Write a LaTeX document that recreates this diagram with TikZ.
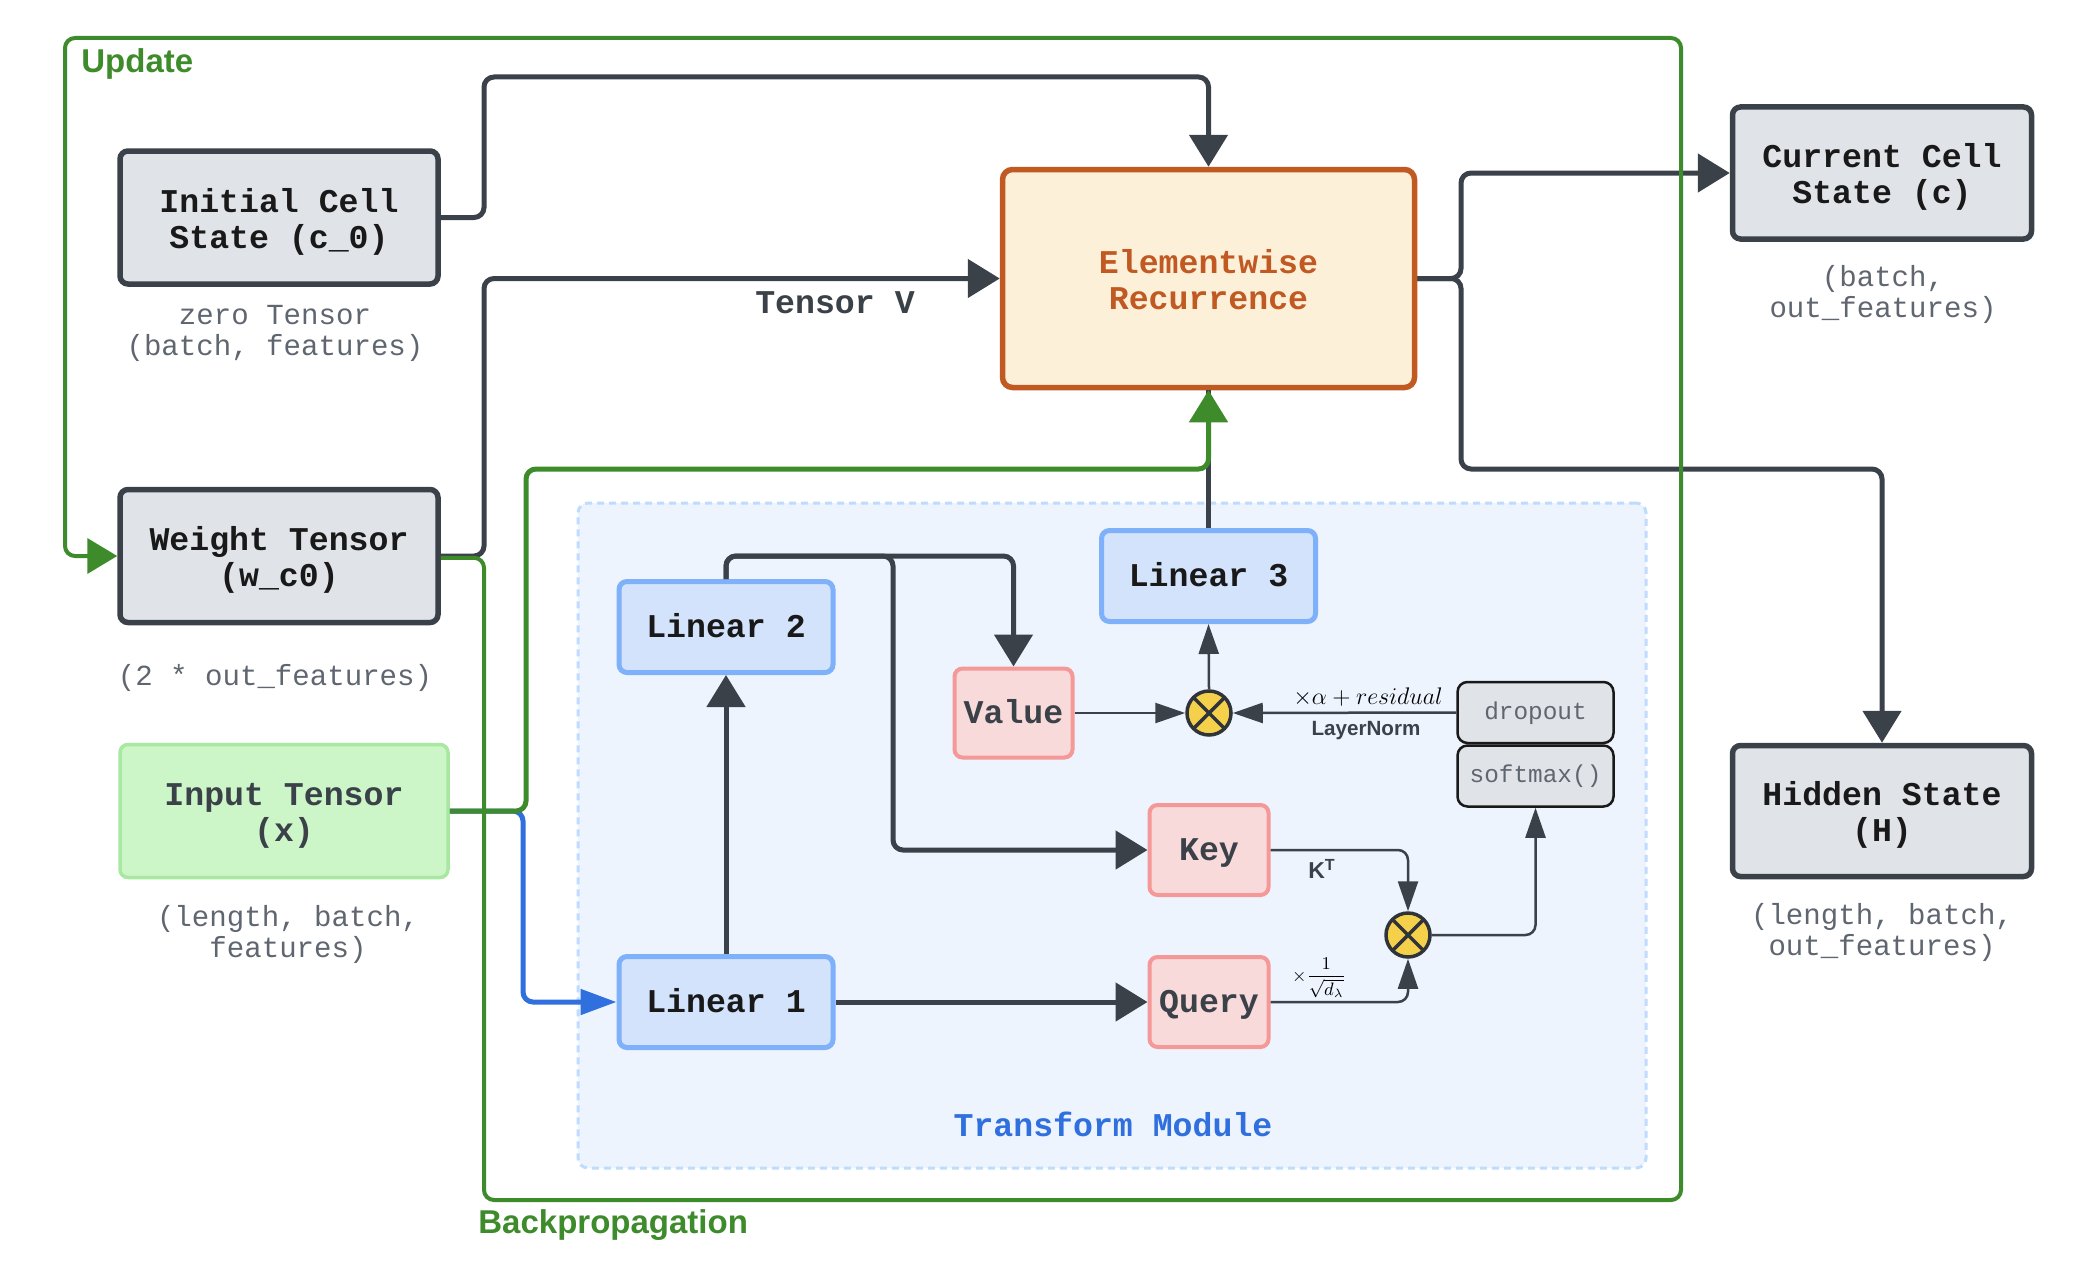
\documentclass[tikz,border=0pt]{standalone}
\usepackage{amsmath}
\usepackage{fontspec}
\setmainfont{Liberation Sans}
\setmonofont{Liberation Mono}
\usepackage{tikz}
\usetikzlibrary{arrows.meta,shapes}

\definecolor{ink}{HTML}{3B4149}
\definecolor{note}{HTML}{5F6670}
\definecolor{graybox}{HTML}{E0E3E8}
\definecolor{updgreen}{HTML}{3D8B2A}
\definecolor{flowblue}{HTML}{2F6FDE}
\definecolor{linefill}{HTML}{D3E3FC}
\definecolor{lineedge}{HTML}{7FB0FA}
\definecolor{modfill}{HTML}{EDF4FE}
\definecolor{modedge}{HTML}{BFDBFE}
\definecolor{attfill}{HTML}{F9DADA}
\definecolor{attedge}{HTML}{F49898}
\definecolor{inpfill}{HTML}{CCF5C8}
\definecolor{inpedge}{HTML}{A8E8A0}
\definecolor{recfill}{HTML}{FDF0D9}
\definecolor{recedge}{HTML}{C05A22}
\definecolor{mulfill}{HTML}{F5D04A}
\definecolor{muledge}{HTML}{2F343A}

\newcommand{\lifted}[1]{\rule{0pt}{#1}}

\tikzset{
  boxfont/.style={font=\fontsize{16.6}{18}\selectfont\ttfamily\bfseries, align=center, inner sep=0pt},
  notefont/.style={font=\fontsize{14.55}{15.5}\selectfont\ttfamily, text=note, align=center, inner sep=0pt},
  cellbox/.style={draw=ink, line width=2.75pt, rectangle, rounded corners=4pt, fill=graybox, text=black!90, boxfont},
  linbox/.style={draw=lineedge, line width=2.5pt, rectangle, rounded corners=4pt, fill=linefill, text=black!90, boxfont, text height=11pt, text depth=0.5pt, minimum width=107pt, minimum height=45.5pt},
  attbox/.style={draw=attedge, line width=2pt, rectangle, rounded corners=4pt, fill=attfill, text=ink, boxfont, text height=11pt, text depth=0.5pt, minimum width=59.5pt, minimum height=45pt},
  stepbox/.style={draw=black!90, line width=1.25pt, rectangle, rounded corners=5pt, fill=graybox, text=note, inner sep=0pt, font=\fontsize{12.2}{14}\selectfont\ttfamily, text height=9pt, text depth=2.5pt, minimum width=78pt, minimum height=30.5pt},
  mulnode/.style={draw=muledge, line width=1.75pt, circle, fill=mulfill, minimum size=22pt, inner sep=0pt,
    path picture={\draw[muledge, line width=1.75pt] (path picture bounding box.north west) -- (path picture bounding box.south east) (path picture bounding box.north east) -- (path picture bounding box.south west);}},
  bigconn/.style={draw=ink, line width=2.5pt, rounded corners=5pt, -{Triangle[length=16pt,width=19pt]}},
  thinconn/.style={draw=ink, line width=1.25pt, rounded corners=5pt, -{Triangle[length=15pt,width=10pt]}},
  grad/.style={font=\fontsize{16.5}{18}\selectfont\bfseries, text=updgreen, inner sep=0pt}
}

\begin{document}
\begin{tikzpicture}[x=0.5pt,y=-0.5pt]
\useasboundingbox (0,0) rectangle (2092,1268);

% Transform module background
\node[draw=modedge, dashed, dash pattern=on 3.5pt off 2.5pt, line width=1.5pt, rectangle, rounded corners=5pt, fill=modfill, minimum width=534pt, minimum height=332.5pt] (module) at (1112,835.5) {};

% Main boxes
\node[cellbox, minimum width=159pt, minimum height=66.5pt] (init) at (279,217.5) {\lifted{16pt}Initial Cell\\State (c\_0)};
\node[cellbox, minimum width=159pt, minimum height=66.5pt] (weight) at (279,556) {\lifted{16pt}Weight Tensor\\(w\_c0)};
\node[draw=inpedge, line width=1.75pt, rectangle, rounded corners=4pt, fill=inpfill, text=ink, boxfont, minimum width=164pt, minimum height=66.5pt] (input) at (284,811) {\lifted{16pt}Input Tensor\\(x)};
\node[draw=recedge, line width=2.75pt, rectangle, rounded corners=5pt, fill=recfill, text=recedge, boxfont, minimum width=206pt, minimum height=109pt] (elem) at (1208.5,278.5) {\lifted{13.3pt}Elementwise\\Recurrence};
\node[cellbox, minimum width=149.5pt, minimum height=66pt] (current) at (1882,173) {\lifted{16pt}Current Cell\\State (c)};
\node[cellbox, minimum width=149.5pt, minimum height=65.5pt] (hidden) at (1882,811) {\lifted{16pt}Hidden State\\(H)};

% Inside the module
\node[linbox] (lin1) at (726,1002) {Linear 1};
\node[linbox] (lin2) at (726,627) {Linear 2};
\node[linbox] (lin3) at (1208.5,576) {Linear 3};
\node[attbox, minimum width=59pt, minimum height=44.5pt] (value) at (1013.5,713) {Value};
\node[attbox] (key) at (1209,850) {Key};
\node[attbox] (query) at (1209,1002) {Query};
\node[mulnode] (multop) at (1209,713) {};
\node[mulnode] (multlow) at (1408,935) {};
\node[stepbox] (dropout) at (1535.5,712.5) {dropout};
\node[stepbox] (softmax) at (1535.5,776) {softmax()};

% Texts
\node[notefont] (initnote) at (275,333) {zero Tensor\\(batch, features)};
\node[notefont] (weightnote) at (275,678) {(2 * out\_features)};
\node[notefont] (inputnote) at (288,934.5) {(length, batch,\\features)};
\node[notefont] (currentnote) at (1883,294.5) {(batch,\\out\_features)};
\node[notefont] (hiddennote) at (1882,932.5) {(length, batch,\\out\_features)};
\node[boxfont, text=ink] (tensorv) at (835,303) {Tensor V};
\node[boxfont, text=flowblue] (modname) at (1113,1124) {Transform Module};
\node[grad, anchor=west] (update) at (81,64) {Update};
\node[grad, anchor=west] (backprop) at (478,1225) {Backpropagation};
\node[font=\fontsize{10.3}{12}\selectfont\bfseries, text=ink, inner sep=0pt] (layernorm) at (1366,731) {LayerNorm};
\node[font=\fontsize{11.5}{12}\selectfont\bfseries, text=ink, inner sep=0pt] (ktrans) at (1322,869) {K\textsuperscript{T}};
\node[font=\fontsize{11.5}{12}\selectfont, inner sep=0pt] (resid) at (1368,697) {$\times\alpha+residual$};
\node[font=\fontsize{9}{10}\selectfont, inner sep=0pt] (scalef) at (1319,978) {$\times\dfrac{1}{\sqrt{d_\lambda}}$};

% Dark connectors
\draw[bigconn] (init.east) -| (484,77) -| (elem.north);
\draw[bigconn] (weight.east) -- (484,556) |- (elem.west);
\draw[bigconn] (elem.east) -- (1461,278.5) |- (current.west);
\draw[bigconn] (elem.east) -- (1461,278.5) |- (1882,469) -- (hidden.north);
\draw[bigconn] (lin1.north) -- (lin2.south);
\draw[bigconn] (lin1.east) -- (query.west);
\draw[bigconn] (lin2.north) |- (893,556) |- (key.west);
\draw[bigconn] (lin2.north) |- (1013.5,556) -- (value.north);
\draw[draw=ink, line width=2.5pt] (lin3.north) -- (elem.south);
\draw[thinconn] (value.east) -- (multop.west);
\draw[thinconn] (multop.north) -- (lin3.south);
\draw[thinconn] (dropout.west) -- (multop.east);
\draw[thinconn] (key.east) -| (multlow.north);
\draw[thinconn] (query.east) -| (multlow.south);
\draw[thinconn] (multlow.east) -| (softmax.south);

% Input paths
\draw[draw=flowblue, color=flowblue, line width=2.5pt, rounded corners=5pt, -{Triangle[length=18pt,width=12.5pt]}] (input.east) -- (523,811) |- (lin1.west);
\draw[bigconn, draw=updgreen, color=updgreen] (input.east) -| (526,469) -| (elem.south);

% Update / backprop loop
\draw[draw=updgreen, color=updgreen, line width=2pt, rounded corners=5pt, -{Triangle[length=15pt,width=17.5pt]}] ([yshift=-0.9pt]weight.east) -| (484,1200) -| (1681,38) -| (65,556) -- (weight.west);
\end{tikzpicture}
\end{document}
